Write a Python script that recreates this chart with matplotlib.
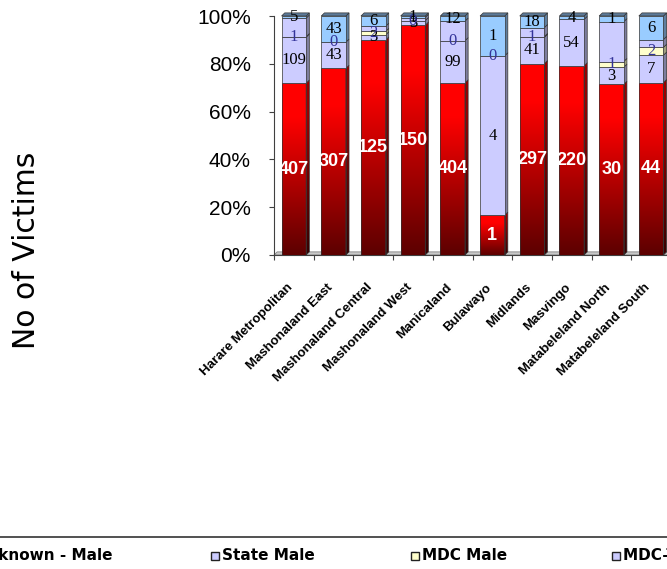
import numpy as np
import matplotlib.pyplot as plt
import matplotlib.transforms as mtransforms
from matplotlib.patches import Rectangle, Polygon
from matplotlib.colors import to_rgb
from matplotlib.lines import Line2D

regions = ["Harare Metropolitan", "Mashonaland East", "Mashonaland Central",
           "Mashonaland West", "Manicaland", "Bulawayo", "Midlands",
           "Masvingo", "Matabeleland North", "Matabeleland South"]

zanu_male = [407, 307, 125, 150, 404, 1, 297, 220, 30, 44]
unknown_male = [109, 43, 3, 3, 99, 4, 41, 54, 3, 7]
state_male = [0, 0, 0, 0, 0, 0, 0, 0, 0, 0]
mdc_male = [1, 0, 2, 0, 0, 0, 1, np.nan, 1, 2]
mdct_male = [44, 0, 3, 2, 46, 0, 14, 0, 7, 2]
other_male = [5, 43, 6, 1, 12, 1, 18, 4, 1, 6]

series_names = ["ZANU PF - Male", "Unknown - Male", "State Male", "MDC Male",
                "MDC-T Male", "Other - Male"]
series_vals = [zanu_male, unknown_male, state_male, mdc_male, mdct_male, other_male]
series_cols = ["#ff0000", "#ccccff", "#ccccff", "#ffffcc", "#ccccff", "#99ccff"]
# label style per series: None = no labels shown
label_style = ["white", "black", None, "blue", None, "black"]

W, H = 667, 569
fig = plt.figure(figsize=(W / 100, H / 100), dpi=100)
ax = fig.add_axes([274 / W, (H - 255) / H, 397 / W, 239 / H])

n = len(regions)
x = np.arange(n)
bw = 0.62
dx, dy = 0.08, 0.013
edge = "#333333"


def shade(c, f):
    r, g, b = to_rgb(c)
    return (r * f, g * f, b * f)


# floor
ax.add_patch(Polygon([(-0.5, 0), (n - 0.5 + dx, 0), (n - 0.5 + 2 * dx, dy), (-0.5 + dx, dy)],
                     closed=True, fc="#c8c8c8", ec="#808080", lw=0.6, zorder=1, clip_on=False))

grad = np.linspace(0, 1, 256)
grad_f = 0.36 + 0.64 * np.clip(grad / 0.8, 0, 1)
red_img = np.zeros((256, 1, 3))
red_img[:, 0, 0] = grad_f
side_img = red_img * 0.6

for i in range(n):
    vals = [0 if np.isnan(s[i]) else s[i] for s in series_vals]
    total = float(sum(vals))
    bottom = 0.0
    top_col = series_cols[0]
    for k, v in enumerate(vals):
        h = v / total
        x0, x1 = x[i] - bw / 2, x[i] + bw / 2
        if h > 0:
            side = Polygon([(x1, bottom), (x1 + dx, bottom + dy), (x1 + dx, bottom + h + dy), (x1, bottom + h)],
                           closed=True, ec=edge, lw=0.5, zorder=3, clip_on=False)
            if k == 0:
                side.set_facecolor("none")
                ax.add_patch(side)
                im = ax.imshow(side_img, extent=(x1, x1 + dx, bottom, bottom + h + dy), origin="lower",
                               aspect="auto", zorder=2.9, interpolation="bilinear")
                im.set_clip_path(side)
                rect = Rectangle((x0, bottom), bw, h, fc="none", ec=edge, lw=0.5, zorder=3)
                ax.add_patch(rect)
                im = ax.imshow(red_img, extent=(x0, x1, bottom, bottom + h), origin="lower",
                               aspect="auto", zorder=2.9, interpolation="bilinear")
                im.set_clip_path(rect)
            else:
                side.set_facecolor(shade(series_cols[k], 0.62))
                ax.add_patch(side)
                ax.add_patch(Rectangle((x0, bottom), bw, h, fc=series_cols[k], ec=edge, lw=0.5, zorder=3))
            top_col = series_cols[k]
        st = label_style[k]
        raw = series_vals[k][i]
        if st is not None and not np.isnan(raw):
            yc = bottom + h / 2
            if st == "white":
                ax.text(x[i], yc, f"{int(raw)}", color="white", fontsize=13, fontweight="bold",
                        family="Liberation Sans", ha="center", va="center", zorder=5)
            elif st == "black":
                ax.text(x[i], yc, f"{int(raw)}", color="black", fontsize=12,
                        family="Liberation Serif", ha="center", va="center", zorder=5)
            else:
                ax.text(x[i], yc, f"{int(raw)}", color="#333399", fontsize=12,
                        family="Liberation Serif", ha="center", va="center", zorder=5)
        bottom += h
    ax.add_patch(Polygon([(x[i] - bw / 2, 1), (x[i] + bw / 2, 1), (x[i] + bw / 2 + dx, 1 + dy),
                          (x[i] - bw / 2 + dx, 1 + dy)], closed=True, fc=shade(top_col, 0.6),
                         ec=edge, lw=0.5, zorder=3, clip_on=False))

ax.set_xlim(-0.5, n - 0.5)
ax.set_ylim(0, 1)
ax.set_facecolor("none")
for s in ["top", "right"]:
    ax.spines[s].set_visible(False)
ax.spines["left"].set_color("#404040")
ax.spines["bottom"].set_color("#404040")

ax.set_yticks(np.linspace(0, 1, 6))
ax.set_yticklabels([f"{int(v * 100)}%" for v in np.linspace(0, 1, 6)], fontsize=15,
                   family="Liberation Sans")
ax.tick_params(axis="y", length=3.6, width=0.8, color="#404040", pad=13)

ax.set_xticks(x)
ax.set_xticklabels(regions, rotation=45, ha="right", rotation_mode="anchor",
                   fontsize=9.5, fontweight="bold", family="Liberation Sans")
ax.tick_params(axis="x", which="major", length=0, pad=19)
shift = mtransforms.ScaledTranslation(-7 / 100, 0, fig.dpi_scale_trans)
for lab in ax.get_xticklabels():
    lab.set_transform(lab.get_transform() + shift)
ax.set_xticks(np.arange(-0.5, n, 1), minor=True)
ax.tick_params(axis="x", which="minor", length=3.6, width=0.8, color="#404040")

fig.text(27 / W, 1 - 250 / H, "No of Victims", rotation=90, fontsize=21.5,
         family="DejaVu Sans", ha="center", va="center")

# legend strip
fig.add_artist(Line2D([0, 1], [1 - 537 / H, 1 - 537 / H], color="#333333", lw=1.2))
leg_x = [-260, -36, 211, 411, 612, 810]
for name, col, lx in zip(series_names, series_cols, leg_x):
    fig.add_artist(Rectangle((lx / W, 1 - 560 / H), 8 / W, 8 / H, fc=col, ec="#222222",
                             lw=1, transform=fig.transFigure))
    fig.text((lx + 11) / W, 1 - 556 / H, name, fontsize=11, fontweight="bold",
             family="DejaVu Sans", ha="left", va="center")

fig.savefig("out.png", dpi=100)
